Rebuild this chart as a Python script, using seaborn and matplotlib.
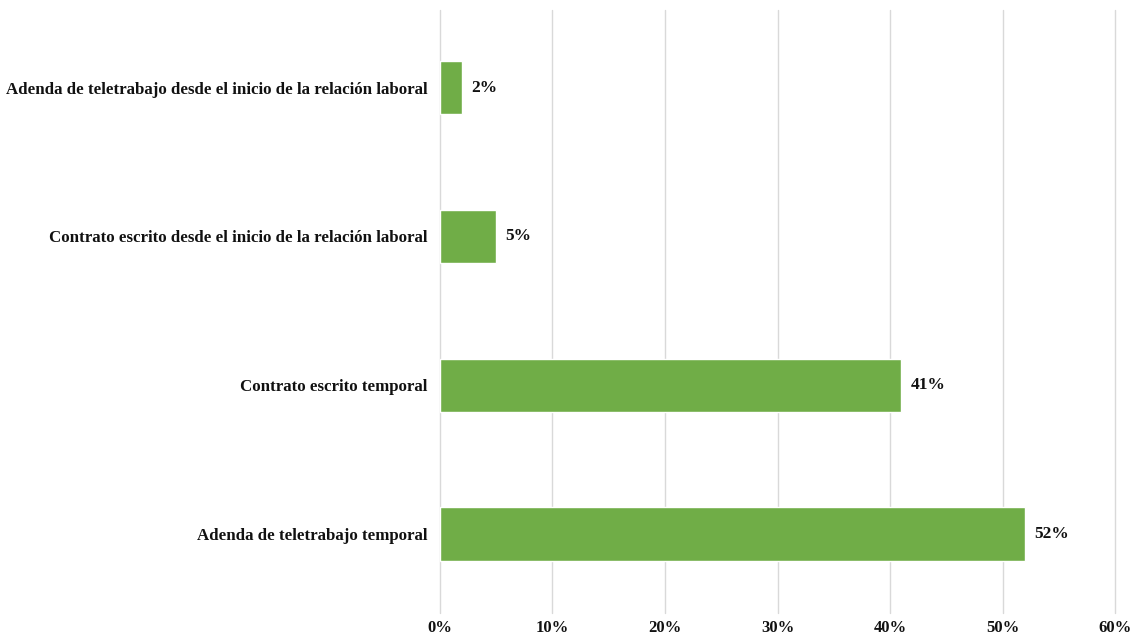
import matplotlib
matplotlib.use("Agg")
import matplotlib.pyplot as plt
import seaborn as sns
import pandas as pd

categorias = [
    "Adenda de teletrabajo desde el inicio de la relación laboral",
    "Contrato escrito desde el inicio de la relación laboral",
    "Contrato escrito temporal",
    "Adenda de teletrabajo temporal",
]
porcentajes = [2, 5, 41, 52]
ticks_x = [0, 10, 20, 30, 40, 50, 60]

sns.set_theme(style="white")
plt.rcParams["font.family"] = ["Liberation Serif", "DejaVu Serif"]

df = pd.DataFrame({"categoria": categorias, "valor": porcentajes})

fig = plt.figure(figsize=(11.31, 6.36), dpi=100)
ax = fig.add_axes([0.389, 0.036, 0.597, 0.948])

sns.barplot(data=df, x="valor", y="categoria", order=categorias,
            color="#70AD47", saturation=1, width=0.36, ax=ax, orient="h")

for i, v in enumerate(porcentajes):
    ax.text(v + 0.8, i, f"{v}%", va="center", ha="left",
            fontsize=12.5, fontweight="bold", color="#111111")

ax.set_xlim(0, 60)
ax.set_ylim(3.53, -0.52)
ax.set_xticks(ticks_x)
ax.set_xticklabels([f"{t}%" for t in ticks_x], fontsize=12, fontweight="bold", color="#111111")
ax.tick_params(axis="y", labelsize=12.2, length=0, pad=9, labelcolor="#111111")
ax.tick_params(axis="x", length=0, pad=5)
for lbl in ax.get_yticklabels():
    lbl.set_fontweight("bold")
ax.set_xlabel("")
ax.set_ylabel("")
ax.grid(axis="x", color="#D9D9D9", linewidth=1)
for gl in ax.get_xgridlines():
    gl.set_clip_on(False)
ax.set_axisbelow(True)
for s in ax.spines.values():
    s.set_visible(False)

fig.savefig("out.png", dpi=100, facecolor="white")
